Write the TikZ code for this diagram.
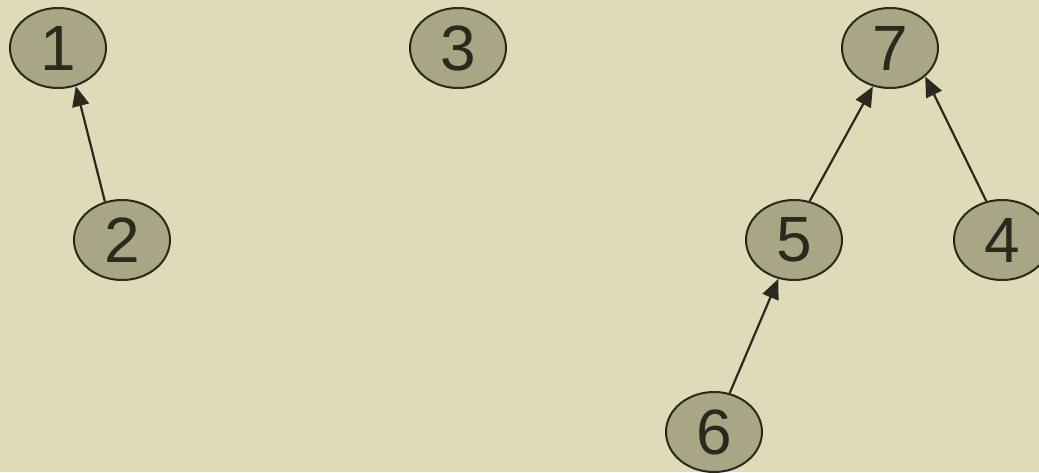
\documentclass[tikz,border=0pt]{standalone}
\usepackage{fontspec}
\setmainfont{Liberation Sans}
\usetikzlibrary{shapes.geometric,arrows.meta}
\definecolor{bgc}{HTML}{DFDBB9}
\definecolor{fillc}{HTML}{A8A684}
\definecolor{linec}{HTML}{2B2820}
\begin{document}
\begin{tikzpicture}[x=1pt,y=-1pt,
  vert/.style={ellipse,draw=linec,fill=fillc,line width=2pt,minimum width=96pt,minimum height=80pt,inner sep=0pt,text=linec,font=\fontsize{64}{64}\selectfont},
  link/.style={draw=linec,line width=2.2pt,-{Triangle[length=20pt,width=17pt]}}]
\fill[bgc] (0,0) rectangle (1039,472);
\useasboundingbox (0,0) rectangle (1039,472);
\node[vert] (n1) at (58,48) {1};
\node[vert] (n3) at (458,48) {3};
\node[vert] (n7) at (890,48) {7};
\node[vert] (n2) at (122,240) {2};
\node[vert] (n5) at (794,240) {5};
\node[vert] (n4) at (1002,240) {4};
\node[vert] (n6) at (714,432) {6};
\draw[link] (n2.114) -- (n1.-65);
\draw[link] (n5.68) -- (n7.-114);
\draw[link] (n4.112) -- (n7.-39);
\draw[link] (n6.68) -- (n5.-112);
\end{tikzpicture}
\end{document}
